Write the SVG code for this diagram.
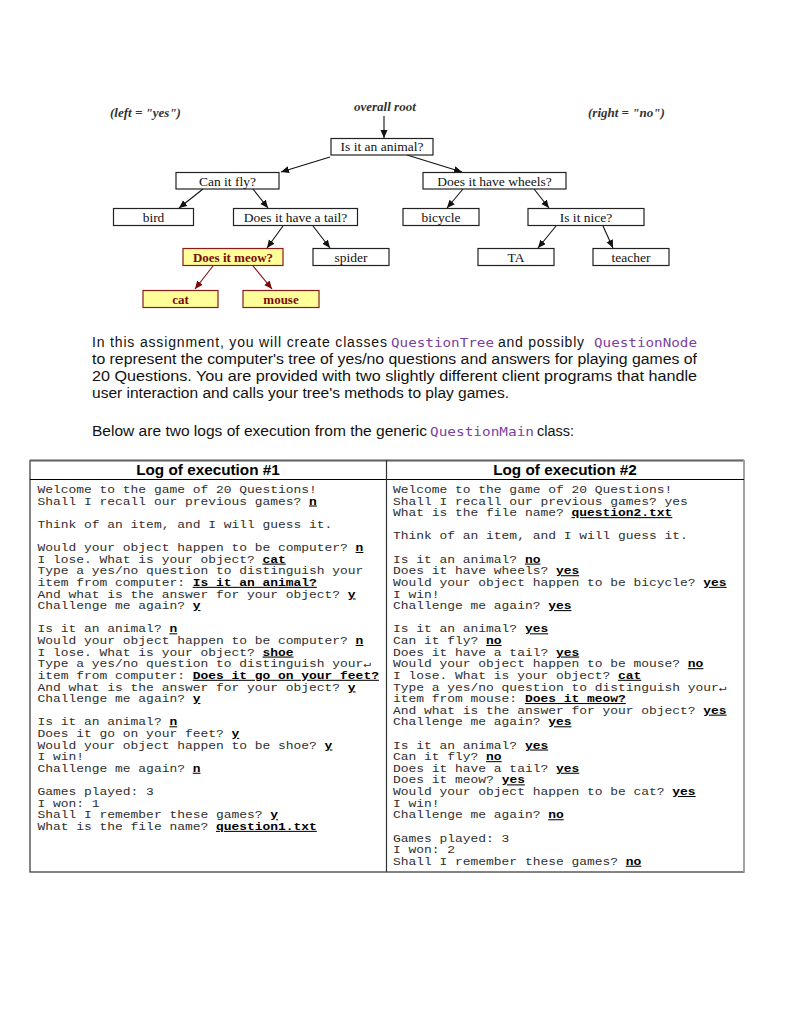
<svg xmlns="http://www.w3.org/2000/svg" width="791" height="1024" viewBox="0 0 791 1024">
<style>
.bx{fill:#fff;stroke:#222;stroke-width:1.2}
.yb{fill:#ffff99;stroke:#8b1a1a;stroke-width:1.2}
.nt{font-family:"Liberation Serif",serif;font-size:13.5px;fill:#111;text-anchor:middle}
.yt{font-family:"Liberation Serif",serif;font-size:13px;font-weight:bold;fill:#7a0a0a;text-anchor:middle}
.lbl{font-family:"Liberation Serif",serif;font-size:13px;font-style:italic;font-weight:bold;fill:#333}
.ar{stroke:#111;stroke-width:1.1;fill:none;marker-end:url(#ah)}
.ra{stroke:#7a0a0a;stroke-width:1.1;fill:none;marker-end:url(#ahr)}
.p{font-family:"Liberation Sans",Arial,sans-serif;font-size:14px;fill:#111}
.c{font-family:"DejaVu Sans Mono",monospace;font-size:12.5px;fill:#7b3fa0}
.h{font-family:"Liberation Sans",Arial,sans-serif;font-size:15.3px;font-weight:bold;fill:#000;text-anchor:middle}
.m{font-family:"Liberation Mono","Courier New",monospace;font-size:10.3px;fill:#2e2e2e;white-space:pre}
.b{font-weight:bold;fill:#000;text-decoration:underline}
</style>
<defs>
<marker id="ah" markerUnits="userSpaceOnUse" markerWidth="9" markerHeight="8" refX="8" refY="3.5" orient="auto"><path d="M0,0 L8,3.5 L0,7 z" fill="#111"/></marker>
<marker id="ahr" markerUnits="userSpaceOnUse" markerWidth="9" markerHeight="8" refX="8" refY="3.5" orient="auto"><path d="M0,0 L8,3.5 L0,7 z" fill="#7a0a0a"/></marker>
</defs>
<rect width="791" height="1024" fill="#fff"/>

<g id="labels">
<text class="lbl" x="110" y="117">(left = "yes")</text>
<text class="lbl" x="354" y="111">overall root</text>
<text class="lbl" x="588" y="117">(right = "no")</text>
</g>

<g id="connectors">
<line class="ar" x1="384" y1="116" x2="384" y2="138"/>
<line class="ar" x1="330" y1="157" x2="281" y2="172"/>
<line class="ar" x1="407" y1="155" x2="462" y2="172"/>
<line class="ar" x1="203" y1="189" x2="179" y2="208"/>
<line class="ar" x1="253" y1="189" x2="268" y2="208"/>
<line class="ar" x1="283" y1="226" x2="267" y2="248"/>
<line class="ar" x1="313" y1="226" x2="330" y2="248"/>
<line class="ra" x1="213" y1="266" x2="195" y2="289"/>
<line class="ra" x1="253" y1="266" x2="272" y2="289"/>
<line class="ar" x1="463" y1="189" x2="447" y2="208"/>
<line class="ar" x1="534" y1="189" x2="549" y2="208"/>
<line class="ar" x1="556" y1="226" x2="538" y2="248"/>
<line class="ar" x1="603" y1="226" x2="613" y2="248"/>
</g>

<g id="n-root"><rect class="bx" x="331" y="138.5" width="102" height="16.5"/><text class="nt" x="382" y="151">Is it an animal?</text></g>
<g id="n-fly"><rect class="bx" x="176" y="172.5" width="103" height="16.5"/><text class="nt" x="227.5" y="185.5">Can it fly?</text></g>
<g id="n-wheels"><rect class="bx" x="423" y="172.5" width="143" height="16.5"/><text class="nt" x="494.5" y="185.5">Does it have wheels?</text></g>
<g id="n-bird"><rect class="bx" x="113.5" y="208.5" width="80" height="17"/><text class="nt" x="153.5" y="221.5">bird</text></g>
<g id="n-tail"><rect class="bx" x="233.5" y="208.5" width="124" height="17"/><text class="nt" x="295.5" y="221.5">Does it have a tail?</text></g>
<g id="n-bicycle"><rect class="bx" x="403" y="208.5" width="76" height="17"/><text class="nt" x="441" y="221.5">bicycle</text></g>
<g id="n-nice"><rect class="bx" x="528" y="208.5" width="116" height="17"/><text class="nt" x="586" y="221.5">Is it nice?</text></g>
<g id="n-meow"><rect class="yb" x="183" y="248.5" width="100" height="17"/><text class="yt" x="233" y="261.5">Does it meow?</text></g>
<g id="n-spider"><rect class="bx" x="313" y="248.5" width="76" height="17"/><text class="nt" x="351" y="261.5">spider</text></g>
<g id="n-ta"><rect class="bx" x="478" y="248.5" width="76" height="17"/><text class="nt" x="516" y="261.5">TA</text></g>
<g id="n-teacher"><rect class="bx" x="593" y="248.5" width="76" height="17"/><text class="nt" x="631" y="261.5">teacher</text></g>
<g id="n-cat"><rect class="yb" x="143" y="290.5" width="75" height="17"/><text class="yt" x="180.5" y="303.5">cat</text></g>
<g id="n-mouse"><rect class="yb" x="243" y="290.5" width="76" height="17"/><text class="yt" x="281" y="303.5">mouse</text></g>

<g id="paragraph">
<text class="p" x="92" y="347" textLength="295" lengthAdjust="spacing">In this assignment, you will create classes</text>
<text class="c" x="391" y="347" textLength="103" lengthAdjust="spacingAndGlyphs">QuestionTree</text>
<text class="p" x="498" y="347" textLength="86" lengthAdjust="spacing">and possibly</text>
<text class="c" x="594" y="347" textLength="103" lengthAdjust="spacingAndGlyphs">QuestionNode</text>
<text class="p" x="92" y="364" textLength="605" lengthAdjust="spacingAndGlyphs">to represent the computer's tree of yes/no questions and answers for playing games of</text>
<text class="p" x="92" y="381" textLength="605" lengthAdjust="spacingAndGlyphs">20 Questions. You are provided with two slightly different client programs that handle</text>
<text class="p" x="92" y="398" textLength="417" lengthAdjust="spacingAndGlyphs">user interaction and calls your tree's methods to play games.</text>
<text class="p" x="92" y="436" textLength="335" lengthAdjust="spacingAndGlyphs">Below are two logs of execution from the generic</text>
<text class="c" x="430" y="436" textLength="104" lengthAdjust="spacingAndGlyphs">QuestionMain</text>
<text class="p" x="537" y="436" textLength="37" lengthAdjust="spacingAndGlyphs">class:</text>
</g>

<g id="table">
<rect x="30" y="460.5" width="714" height="411.5" fill="none" stroke="#333" stroke-width="1.2"/>
<line x1="30" y1="460.5" x2="744" y2="460.5" stroke="#666" stroke-width="1.8"/>
<line x1="744" y1="460" x2="744" y2="872" stroke="#aaa" stroke-width="1.6"/>
<line x1="30" y1="479.5" x2="744" y2="479.5" stroke="#000" stroke-width="1.2"/>
<line x1="386.5" y1="460" x2="386.5" y2="872" stroke="#333" stroke-width="1.2"/>
<text class="h" x="208" y="475">Log of execution #1</text>
<text class="h" x="565" y="475">Log of execution #2</text>
</g>

<g id="log1" transform="scale(1.2557,1)">
<text class="m" x="29.86" y="493">Welcome to the game of 20 Questions!</text>
<text class="m" x="29.86" y="504.62">Shall I recall our previous games? <tspan class="b">n</tspan></text>
<text class="m" x="29.86" y="527.86">Think of an item, and I will guess it.</text>
<text class="m" x="29.86" y="551.1">Would your object happen to be computer? <tspan class="b">n</tspan></text>
<text class="m" x="29.86" y="562.72">I lose. What is your object? <tspan class="b">cat</tspan></text>
<text class="m" x="29.86" y="574.34">Type a yes/no question to distinguish your</text>
<text class="m" x="29.86" y="585.96">item from computer: <tspan class="b">Is it an animal?</tspan></text>
<text class="m" x="29.86" y="597.58">And what is the answer for your object? <tspan class="b">y</tspan></text>
<text class="m" x="29.86" y="609.2">Challenge me again? <tspan class="b">y</tspan></text>
<text class="m" x="29.86" y="632.44">Is it an animal? <tspan class="b">n</tspan></text>
<text class="m" x="29.86" y="644.06">Would your object happen to be computer? <tspan class="b">n</tspan></text>
<text class="m" x="29.86" y="655.68">I lose. What is your object? <tspan class="b">shoe</tspan></text>
<text class="m" x="29.86" y="667.3">Type a yes/no question to distinguish your↵</text>
<text class="m" x="29.86" y="678.92">item from computer: <tspan class="b">Does it go on your feet?</tspan></text>
<text class="m" x="29.86" y="690.54">And what is the answer for your object? <tspan class="b">y</tspan></text>
<text class="m" x="29.86" y="702.16">Challenge me again? <tspan class="b">y</tspan></text>
<text class="m" x="29.86" y="725.4">Is it an animal? <tspan class="b">n</tspan></text>
<text class="m" x="29.86" y="737.02">Does it go on your feet? <tspan class="b">y</tspan></text>
<text class="m" x="29.86" y="748.64">Would your object happen to be shoe? <tspan class="b">y</tspan></text>
<text class="m" x="29.86" y="760.26">I win!</text>
<text class="m" x="29.86" y="771.88">Challenge me again? <tspan class="b">n</tspan></text>
<text class="m" x="29.86" y="795.12">Games played: 3</text>
<text class="m" x="29.86" y="806.74">I won: 1</text>
<text class="m" x="29.86" y="818.36">Shall I remember these games? <tspan class="b">y</tspan></text>
<text class="m" x="29.86" y="829.98">What is the file name? <tspan class="b">question1.txt</tspan></text>
</g>

<g id="log2" transform="scale(1.2557,1)">
<text class="m" x="312.97" y="493">Welcome to the game of 20 Questions!</text>
<text class="m" x="312.97" y="504.62">Shall I recall our previous games? yes</text>
<text class="m" x="312.97" y="516.24">What is the file name? <tspan class="b">question2.txt</tspan></text>
<text class="m" x="312.97" y="539.48">Think of an item, and I will guess it.</text>
<text class="m" x="312.97" y="562.72">Is it an animal? <tspan class="b">no</tspan></text>
<text class="m" x="312.97" y="574.34">Does it have wheels? <tspan class="b">yes</tspan></text>
<text class="m" x="312.97" y="585.96">Would your object happen to be bicycle? <tspan class="b">yes</tspan></text>
<text class="m" x="312.97" y="597.58">I win!</text>
<text class="m" x="312.97" y="609.2">Challenge me again? <tspan class="b">yes</tspan></text>
<text class="m" x="312.97" y="632.44">Is it an animal? <tspan class="b">yes</tspan></text>
<text class="m" x="312.97" y="644.06">Can it fly? <tspan class="b">no</tspan></text>
<text class="m" x="312.97" y="655.68">Does it have a tail? <tspan class="b">yes</tspan></text>
<text class="m" x="312.97" y="667.3">Would your object happen to be mouse? <tspan class="b">no</tspan></text>
<text class="m" x="312.97" y="678.92">I lose. What is your object? <tspan class="b">cat</tspan></text>
<text class="m" x="312.97" y="690.54">Type a yes/no question to distinguish your↵</text>
<text class="m" x="312.97" y="702.16">item from mouse: <tspan class="b">Does it meow?</tspan></text>
<text class="m" x="312.97" y="713.78">And what is the answer for your object? <tspan class="b">yes</tspan></text>
<text class="m" x="312.97" y="725.4">Challenge me again? <tspan class="b">yes</tspan></text>
<text class="m" x="312.97" y="748.64">Is it an animal? <tspan class="b">yes</tspan></text>
<text class="m" x="312.97" y="760.26">Can it fly? <tspan class="b">no</tspan></text>
<text class="m" x="312.97" y="771.88">Does it have a tail? <tspan class="b">yes</tspan></text>
<text class="m" x="312.97" y="783.5">Does it meow? <tspan class="b">yes</tspan></text>
<text class="m" x="312.97" y="795.12">Would your object happen to be cat? <tspan class="b">yes</tspan></text>
<text class="m" x="312.97" y="806.74">I win!</text>
<text class="m" x="312.97" y="818.36">Challenge me again? <tspan class="b">no</tspan></text>
<text class="m" x="312.97" y="841.6">Games played: 3</text>
<text class="m" x="312.97" y="853.22">I won: 2</text>
<text class="m" x="312.97" y="864.84">Shall I remember these games? <tspan class="b">no</tspan></text>
</g>
</svg>
